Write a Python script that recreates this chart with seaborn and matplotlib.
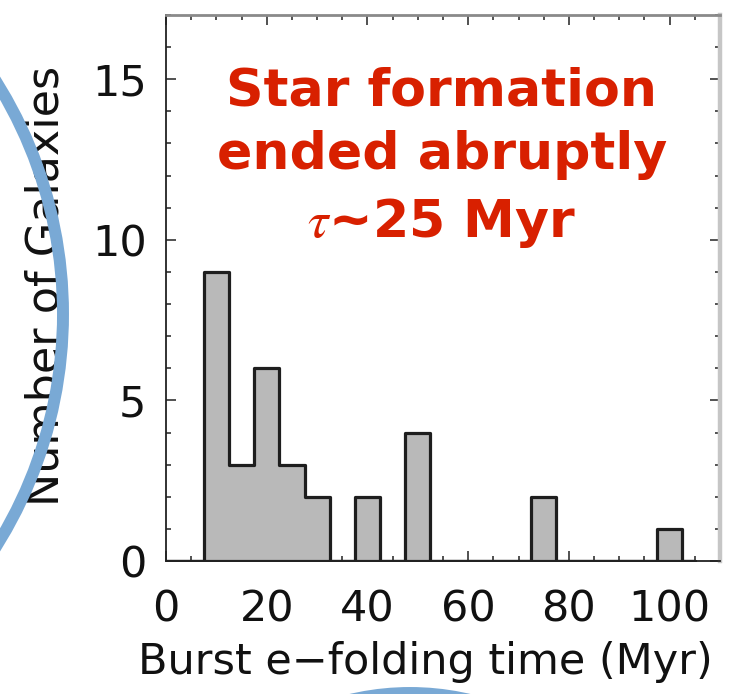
import numpy as np
import pandas as pd
import matplotlib
matplotlib.use("Agg")
import matplotlib.pyplot as plt
import seaborn as sns
from matplotlib.patches import Ellipse
from matplotlib.ticker import MultipleLocator

# ---- data ----
bin_edges = [0, 7.5, 12.5, 17.5, 22.5, 27.5, 32.5, 37.5, 42.5, 47.5, 52.5,
             57.5, 62.5, 67.5, 72.5, 77.5, 82.5, 87.5, 92.5, 97.5, 102.5, 105]
galaxy_counts = [0, 9, 3, 6, 3, 2, 0, 2, 0, 4, 0, 0, 0, 0, 2, 0, 0, 0, 0, 1, 0]
x_ticks = [0, 20, 40, 60, 80, 100]
y_ticks = [0, 5, 10, 15]
x_label = "Burst e\u2212folding time (Myr)"
y_label = "Number of Galaxies"
note_lines = ["Star formation", "ended abruptly", "$\\tau$~25 Myr"]

edges = np.array(bin_edges, dtype=float)
centers = (edges[:-1] + edges[1:]) / 2
df = pd.DataFrame({"tau": centers, "n": np.array(galaxy_counts, dtype=float)})

sns.set_style("white")
plt.rcParams["font.family"] = ["DejaVu Sans"]
plt.rcParams["mathtext.fontset"] = "stix"

W, H = 753, 694
fig = plt.figure(figsize=(W / 100, H / 100), dpi=100)
fig.patch.set_facecolor("white")
ax = fig.add_axes([166 / W, 1 - 561 / H, (720 - 166) / W, (561 - 15) / H])

sns.histplot(data=df, x="tau", weights="n", bins=list(bin_edges), element="step",
             fill=True, facecolor="#b9b9b9", edgecolor="#1e1e1e",
             linewidth=2.3, alpha=1, ax=ax)

ax.set_xlim(0, 110)
ax.set_ylim(0, 17)
ax.set_xticks(x_ticks)
ax.set_yticks(y_ticks)
ax.xaxis.set_minor_locator(MultipleLocator(5))
ax.yaxis.set_minor_locator(MultipleLocator(1))
ax.tick_params(which="both", direction="in", top=True, right=True,
               bottom=True, left=True, color="#333333", width=1.2)
ax.tick_params(which="major", length=7)
ax.tick_params(which="minor", length=3.6)
ax.tick_params(axis="x", which="major", labelsize=31, pad=20, labelcolor="#111111")
ax.tick_params(axis="y", which="major", labelsize=31, pad=14, labelcolor="#111111")

for side in ["left", "bottom"]:
    ax.spines[side].set_color("#222222")
    ax.spines[side].set_linewidth(1.3)
ax.spines["top"].set_color("#8a8a8a")
ax.spines["top"].set_linewidth(2.0)
ax.spines["right"].set_color("#c6c6c6")
ax.spines["right"].set_linewidth(3.2)

ax.set_xlabel(x_label, fontsize=31, color="#111111", va="center")
ax.xaxis.set_label_coords((425 - 166) / 554, -(662 - 561) / 546)
ax.set_ylabel(y_label, fontsize=32, color="#111111", va="center")
ax.yaxis.set_label_coords((46 - 166) / 554, (561 - 286) / 546)

red = "#d82000"
baselines = [105, 169, 237]
for line, yb in zip(note_lines, baselines):
    fig.text(442 / W, 1 - yb / H, line, ha="center", va="baseline",
             fontsize=37.5, fontweight="bold", color=red,
             family=["DejaVu Sans"])

blue = "#79a9d5"
R1, cy1, xmax1 = 437, 314, 63
fig.add_artist(Ellipse(((xmax1 - R1) / W, 1 - cy1 / H), 2 * R1 / W, 2 * R1 / H,
                       transform=fig.transFigure, fill=False, ec=blue, lw=8.6,
                       zorder=20, clip_on=False))
R2 = 260
fig.add_artist(Ellipse((410 / W, 1 - (693 + R2) / H), 2 * R2 / W, 2 * R2 / H,
                       transform=fig.transFigure, fill=False, ec=blue, lw=8.6,
                       zorder=20, clip_on=False))

fig.savefig("out.png", dpi=100)
